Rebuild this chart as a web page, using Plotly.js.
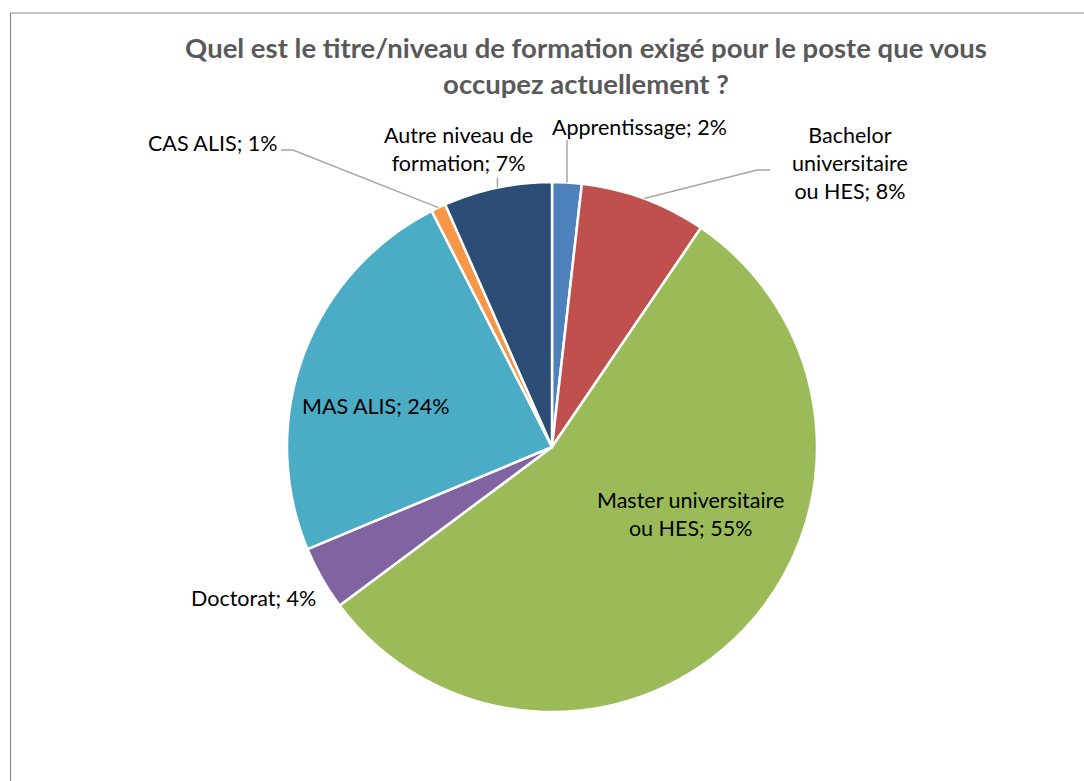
<!DOCTYPE html>
<html>
<head>
<meta charset="utf-8">
<script src="https://cdn.plot.ly/plotly-3.0.1.min.js"></script>
<style>html,body{margin:0;padding:0;background:#fff;}#chart{width:1084px;height:781px;}</style>
</head>
<body>
<div id="chart"></div>
<script>
// ---- data ----
const categories = ['Apprentissage', 'Bachelor universitaire ou HES', 'Master universitaire ou HES', 'Doctorat', 'MAS ALIS', 'CAS ALIS', 'Autre niveau de formation'];
const shares = [1.8, 7.7, 55.3, 3.9, 23.8, 0.9, 6.6];
const labelLines = ['Apprentissage', 'Bachelor<br>universitaire<br>ou HES', 'Master universitaire<br>ou HES', 'Doctorat', 'MAS ALIS', 'CAS ALIS', 'Autre niveau de<br>formation'];
const colors = ['#4F81BD', '#C0504D', '#9BBB59', '#8064A2', '#4BACC6', '#F79646', '#2C4D75'];

// ---- layout geometry (pixels) ----
const W = 1084, H = 781;
const CX = 552, CY = 447, R = 265;
const px = x => x / W, py = y => 1 - y / H;

// label centres (px) and leader line elbows (px)
const labelPos = [[639, 127], [850, 163], [690, 514], [253, 598], [376, 406], [212, 143], [458, 149]];
const elbows = [[['tip', 140]], [[770, 170], [757, 170]], null, null, null, [[281, 150], [293, 150]], [['tip', 178]]];

const total = shares.reduce((a, b) => a + b, 0);
let cum = 0;
const annotations = [], shapes = [];
shares.forEach((v, i) => {
  const mid = (cum + v / 2) / total * 2 * Math.PI;
  cum += v;
  const tip = [CX + R * Math.sin(mid), CY - R * Math.cos(mid)];
  const pct = Math.round(v / total * 100);
  annotations.push({
    xref: 'paper', yref: 'paper', x: px(labelPos[i][0]), y: py(labelPos[i][1]),
    xanchor: 'center', yanchor: 'middle', showarrow: false, align: 'center',
    text: labelLines[i] + '; ' + pct + '%',
    font: {family: 'Lato, "Open Sans", sans-serif', size: 21.5, color: '#000'}
  });
  if (elbows[i]) {
    const pts = elbows[i].map(p => [p[0] === 'tip' ? tip[0] : p[0], p[1]]).concat([tip]);
    const d = pts.map((p, k) => (k ? 'L' : 'M') + px(p[0]).toFixed(5) + ',' + py(p[1]).toFixed(5)).join(' ');
    shapes.push({type: 'path', xref: 'paper', yref: 'paper', path: d, line: {color: '#A6A6A6', width: 1.5}});
  }
});

// outer chart frame
shapes.push({type: 'rect', xref: 'paper', yref: 'paper', x0: px(10.5), x1: 1.05, y0: -0.05, y1: py(13),
  line: {color: '#888888', width: 1.2}, fillcolor: 'rgba(0,0,0,0)'});

const trace = {
  type: 'pie',
  labels: categories,
  values: shares,
  sort: false,
  direction: 'clockwise',
  rotation: 0,
  textinfo: 'none',
  hoverinfo: 'skip',
  marker: {colors: colors, line: {color: '#FFFFFF', width: 2.5}},
  domain: {x: [px(CX - R), px(CX + R)], y: [py(CY + R), py(CY - R)]}
};

const layout = {
  width: W, height: H,
  margin: {l: 0, r: 0, t: 0, b: 0},
  paper_bgcolor: '#FFFFFF',
  showlegend: false,
  title: {
    text: 'Quel est le titre/niveau de formation exigé pour le poste que vous<br>occupez actuellement ?',
    font: {family: 'Lato, "Open Sans", sans-serif', size: 27.5, color: '#595959', weight: 'bold'},
    x: px(586), xanchor: 'center', y: py(58), yanchor: 'middle'
  },
  annotations: annotations,
  shapes: shapes
};

Plotly.newPlot('chart', [trace], layout, {displayModeBar: false, staticPlot: true});
</script>
</body>
</html>
